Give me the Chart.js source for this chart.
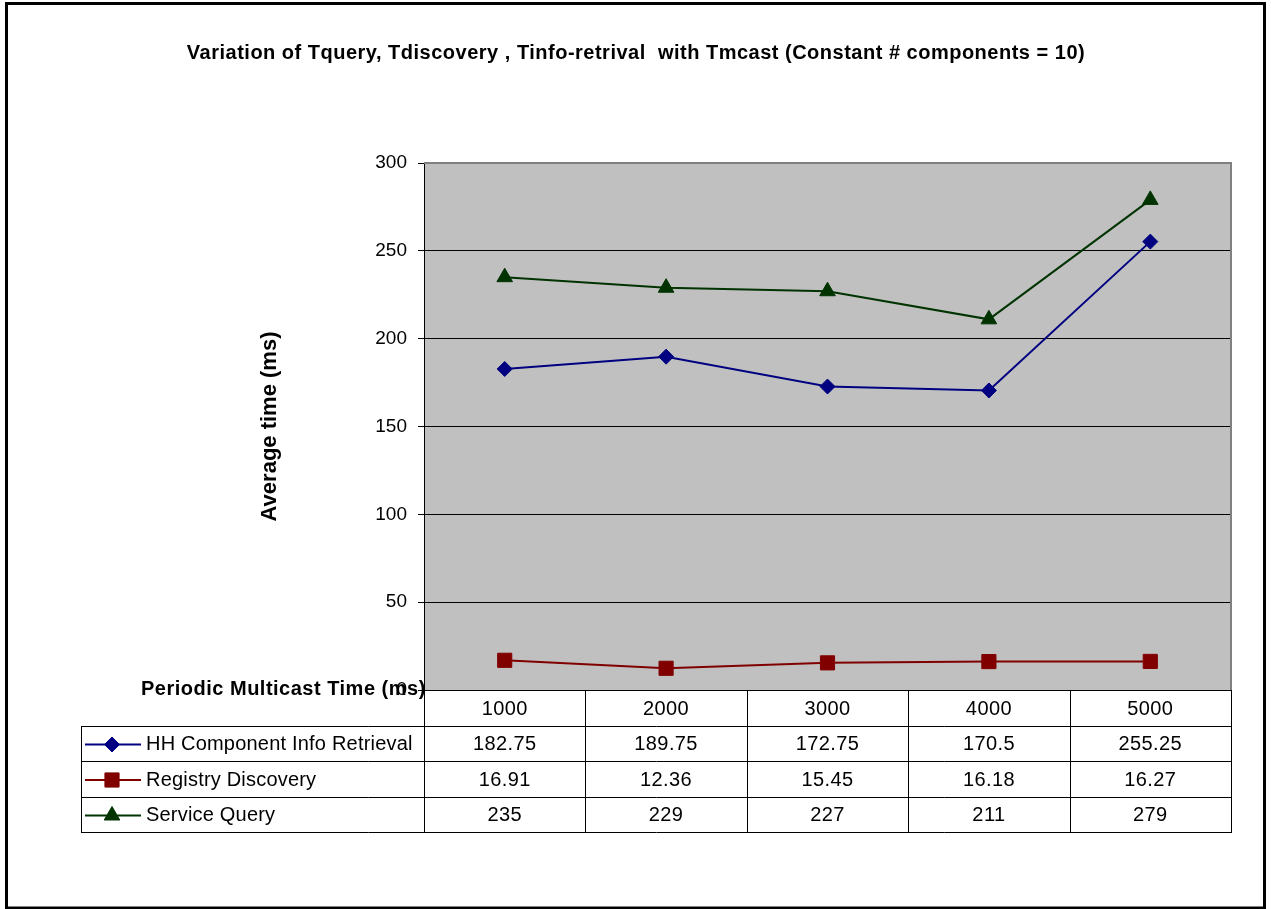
<!DOCTYPE html>
<html>
<head>
<meta charset="utf-8">
<script src="https://cdn.jsdelivr.net/npm/chart.js@4.4.0/dist/chart.umd.min.js"></script>
<style>
  html, body { margin: 0; padding: 0; background: #fff; }
  canvas { display: block; }
</style>
</head>
<body>
<canvas id="multicastChart" width="1271" height="909"></canvas>
<script>
const chartTitle = 'Variation of Tquery, Tdiscovery , Tinfo-retrival  with Tmcast (Constant # components = 10)';
const xAxisTitle = 'Periodic Multicast Time (ms)';
const yAxisTitle = 'Average time (ms)';

const multicastTimes = ['1000', '2000', '3000', '4000', '5000'];
const infoRetrieval = [182.75, 189.75, 172.75, 170.5, 255.25];
const registryDiscovery = [16.91, 12.36, 15.45, 16.18, 16.27];
const serviceQuery = [235, 229, 227, 211, 279];
const yMin = 0;
const yMax = 300;
const yStep = 50;

const FONT = "'Liberation Sans', Arial, sans-serif";

// excel-ish plot frame + the data table under the x axis
const excelPlugin = {
  id: 'excelBits',
  beforeDraw(chart) {
    const { ctx, chartArea: a } = chart;
    ctx.save();
    ctx.fillStyle = '#fff';
    ctx.fillRect(0, 0, chart.width, chart.height);
    ctx.fillStyle = '#C0C0C0';
    ctx.fillRect(a.left, a.top, a.right - a.left, a.bottom - a.top);
    ctx.restore();
  },
  beforeDatasetsDraw(chart) {
    const { ctx, chartArea: a } = chart;
    ctx.save();
    ctx.strokeStyle = '#808080';
    ctx.lineWidth = 2;
    ctx.beginPath();
    ctx.moveTo(a.left, a.top);
    ctx.lineTo(a.right, a.top);
    ctx.lineTo(a.right, a.bottom);
    ctx.stroke();
    ctx.restore();
  },
  afterDraw(chart) {
    const { ctx, chartArea: a } = chart;
    const xs = chart.scales.x;
    const colW = (a.right - a.left) / multicastTimes.length;
    const tableLeft = 81;
    const rows = [a.bottom, 726, 761, 797, 832];

    ctx.save();

    // title
    ctx.fillStyle = '#000';
    ctx.font = 'bold 20px ' + FONT;
    ctx.letterSpacing = '0.5px';
    ctx.textAlign = 'center';
    ctx.textBaseline = 'middle';
    ctx.fillText(chartTitle, 636, 53);

    // grid of the table
    ctx.lineWidth = 1;
    ctx.strokeStyle = '#000';
    ctx.beginPath();
    for (let i = 0; i <= multicastTimes.length; i++) {
      const x = Math.round(a.left + i * colW) + 0.5;
      ctx.moveTo(x, rows[0]);
      ctx.lineTo(x, rows[rows.length - 1]);
    }
    ctx.moveTo(tableLeft + 0.5, rows[1]);
    ctx.lineTo(tableLeft + 0.5, rows[rows.length - 1]);
    for (let r = 1; r < rows.length; r++) {
      ctx.moveTo(tableLeft, rows[r] + 0.5);
      ctx.lineTo(a.right + 1, rows[r] + 0.5);
    }
    ctx.stroke();

    // x axis title, sits right on top of the "0" tick like the original
    ctx.font = 'bold 20px ' + FONT;
    ctx.textAlign = 'left';
    ctx.fillText(xAxisTitle, 141, 689);

    // header row: category labels
    ctx.font = '20px ' + FONT;
    ctx.letterSpacing = '0.4px';
    ctx.textAlign = 'center';
    multicastTimes.forEach((lbl, i) => {
      ctx.fillText(lbl, xs.getPixelForValue(i), (rows[0] + rows[1]) / 2 + 1);
    });

    // one row per series
    chart.data.datasets.forEach((ds, d) => {
      const yMid = (rows[d + 1] + rows[d + 2]) / 2 + 1;
      ctx.strokeStyle = ds.borderColor;
      ctx.fillStyle = ds.backgroundColor;
      ctx.lineWidth = 2;
      ctx.beginPath();
      ctx.moveTo(85, yMid);
      ctx.lineTo(141, yMid);
      ctx.stroke();
      ctx.lineWidth = 1;
      Chart.helpers.drawPoint(ctx, {
        pointStyle: ds.pointStyle,
        radius: ds.pointRadius,
        rotation: 0,
        borderWidth: 1
      }, 112, yMid);

      ctx.fillStyle = '#000';
      ctx.textAlign = 'left';
      ctx.letterSpacing = '0.2px';
      ctx.fillText(ds.label, 146, yMid);
      ctx.textAlign = 'center';
      ctx.letterSpacing = '0.4px';
      ds.data.forEach((v, i) => {
        ctx.fillText(String(v), xs.getPixelForValue(i), yMid);
      });
    });
    ctx.letterSpacing = '0px';

    // outer frame
    ctx.strokeStyle = '#000';
    ctx.lineWidth = 3;
    ctx.strokeRect(6.5, 3.5, 1258, 904.5);
    ctx.restore();
  }
};

function series(label, data, color, style, radius) {
  return {
    label,
    data,
    borderColor: color,
    backgroundColor: color,
    borderWidth: 2,
    pointStyle: style,
    pointRadius: radius,
    pointHoverRadius: radius,
    pointBorderWidth: 1,
    tension: 0
  };
}

const ctx = document.getElementById('multicastChart').getContext('2d');
const multicastChart = new Chart(ctx, {
  type: 'line',
  data: {
    labels: multicastTimes,
    datasets: [
      series('HH Component Info Retrieval', infoRetrieval, '#000080', 'rectRot', 7.5),
      series('Registry Discovery', registryDiscovery, '#800000', 'rect', 10),
      series('Service Query', serviceQuery, '#003300', 'triangle', 9)
    ]
  },
  options: {
    responsive: false,
    animation: false,
    layout: { padding: { left: 255, top: 163, right: 40, bottom: 219 } },
    plugins: {
      legend: { display: false },
      title: { display: false },
      tooltip: { enabled: false }
    },
    scales: {
      x: {
        offset: true,
        grid: { display: false },
        border: { display: true, color: '#000', width: 1 },
        ticks: { display: false },
        afterFit(scale) { scale.height = 0; }
      },
      y: {
        min: yMin,
        max: yMax,
        ticks: {
          stepSize: yStep,
          padding: 11,
          color: '#000',
          font: { family: FONT, size: 19 }
        },
        grid: {
          color: (c) => (c.tick && c.tick.value === yMax ? 'rgba(0,0,0,0)' : '#000'),
          tickColor: '#000',
          tickLength: 6,
          lineWidth: 1
        },
        border: { display: true, color: '#000', width: 1 },
        title: {
          display: true,
          text: yAxisTitle,
          color: '#000',
          padding: { top: 2, bottom: 0 },
          font: { family: FONT, size: 22, weight: 'bold' }
        },
        afterFit(scale) { scale.width = 424 - 255; }
      }
    }
  },
  plugins: [excelPlugin]
});
</script>
</body>
</html>
